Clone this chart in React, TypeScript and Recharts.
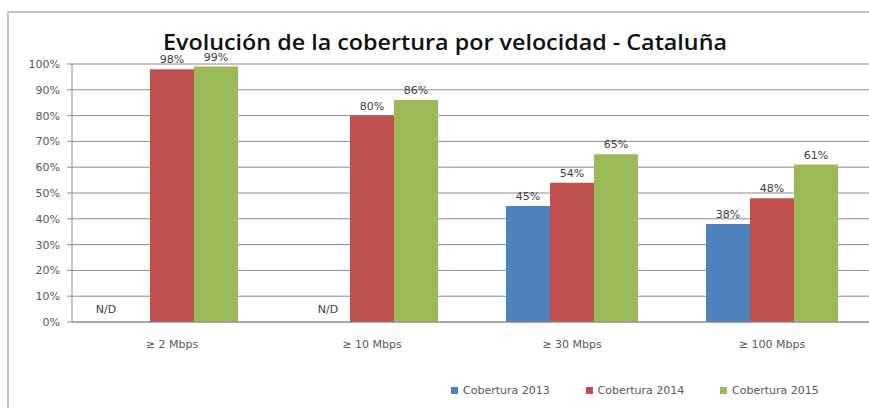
import { Bar, BarChart, CartesianGrid, Cell, LabelList, Legend, XAxis, YAxis } from "recharts";

const BLUE = "#4F81BD";
const RED = "#C0504D";
const GREEN = "#9BBB59";
const GRID = "#8c8c8c";
const TEXT = "#595959";
const FONT = "'DejaVu Sans', sans-serif";

const categories = ["≥ 2 Mbps", "≥ 10 Mbps", "≥ 30 Mbps", "≥ 100 Mbps"];
const cov2013 = [0, 0, 45, 38];
const noData2013 = [true, true, false, false];
const cov2014 = [98, 80, 54, 48];
const cov2015 = [99, 86, 65, 61];
const yTicks = [0, 10, 20, 30, 40, 50, 60, 70, 80, 90, 100];

const series = [
  { key: "c2013", name: "Cobertura 2013", color: BLUE },
  { key: "c2014", name: "Cobertura 2014", color: RED },
  { key: "c2015", name: "Cobertura 2015", color: GREEN },
];

const data = categories.map((cat, i) => ({
  cat,
  c2013: cov2013[i],
  c2014: cov2014[i],
  c2015: cov2015[i],
  nd: noData2013[i],
}));

function PctLabel(props: any) {
  const { x, y, width, value, index } = props;
  const nd = props.nd && data[index]?.nd;
  const shift = nd && index === 0 ? -22 : 0;
  return (
    <text
      x={x + width / 2 + shift}
      y={y - (nd ? 8 : 6)}
      textAnchor="middle"
      fontSize={11}
      fontFamily={FONT}
      fill="#404040"
    >
      {nd ? "N/D" : `${value}%`}
    </text>
  );
}

function LegendBox() {
  return (
    <div style={{ display: "flex", fontFamily: FONT, fontSize: 11, color: TEXT }}>
      {series.map((s) => (
        <div key={s.key} style={{ width: 134.5, display: "flex", alignItems: "center" }}>
          <span style={{ width: 7, height: 7, background: s.color, marginRight: 5, display: "inline-block" }} />
          <span>{s.name}</span>
        </div>
      ))}
    </div>
  );
}

export default function App() {
  return (
    <div
      style={{
        position: "absolute",
        left: 0,
        top: 0,
        width: 869,
        height: 408,
        overflow: "hidden",
        background: "#fff",
      }}
    >
      <div
        style={{
          position: "absolute",
          left: 7,
          top: 11,
          width: 900,
          height: 500,
          borderLeft: "2px solid #c4c4c4",
          borderTop: "2px solid #c4c4c4",
        }}
      />
      <svg width={869} height={60} style={{ position: "absolute", left: 0, top: 0 }}>
        <text
          x={163}
          y={50}
          textLength={564}
          lengthAdjust="spacingAndGlyphs"
          fontFamily="'Open Sans', sans-serif"
          fontWeight={600}
          fontSize={22}
          fill="#111"
        >
          Evolución de la cobertura por velocidad - Cataluña
        </text>
      </svg>
      <div style={{ position: "absolute", left: 0, top: 0 }}>
        <BarChart
          width={872}
          height={408}
          data={data}
          margin={{ top: 64, right: 0, left: 0, bottom: 0 }}
          barCategoryGap="17%"
          barGap={0}
        >
          <CartesianGrid vertical={false} stroke={GRID} />
          <XAxis
            dataKey="cat"
            height={86}
            tickLine={false}
            axisLine={{ stroke: GRID }}
            tickMargin={12}
            tick={{ fill: TEXT, fontSize: 11, fontFamily: FONT }}
          />
          <YAxis
            width={72}
            domain={[0, 100]}
            ticks={yTicks}
            interval={0}
            tickFormatter={(v: number) => `${v}%`}
            axisLine={{ stroke: GRID }}
            tickLine={{ stroke: GRID }}
            tickSize={5}
            tickMargin={7}
            tick={{ fill: TEXT, fontSize: 11, fontFamily: FONT }}
          />
          <Legend
            layout="horizontal"
            verticalAlign="middle"
            align="center"
            content={() => <LegendBox />}
            wrapperStyle={{ left: 451, top: 384, width: 420, height: 16 }}
          />
          <Bar dataKey="c2013" name="Cobertura 2013" fill={BLUE} minPointSize={1} isAnimationActive={false}>
            {data.map((d) => (
              <Cell key={d.cat} fill={d.nd ? "transparent" : BLUE} />
            ))}
            <LabelList dataKey="c2013" content={(p: any) => <PctLabel {...p} nd />} />
          </Bar>
          <Bar dataKey="c2014" name="Cobertura 2014" fill={RED} isAnimationActive={false}>
            <LabelList dataKey="c2014" content={(p: any) => <PctLabel {...p} />} />
          </Bar>
          <Bar dataKey="c2015" name="Cobertura 2015" fill={GREEN} isAnimationActive={false}>
            <LabelList dataKey="c2015" content={(p: any) => <PctLabel {...p} />} />
          </Bar>
        </BarChart>
      </div>
    </div>
  );
}
